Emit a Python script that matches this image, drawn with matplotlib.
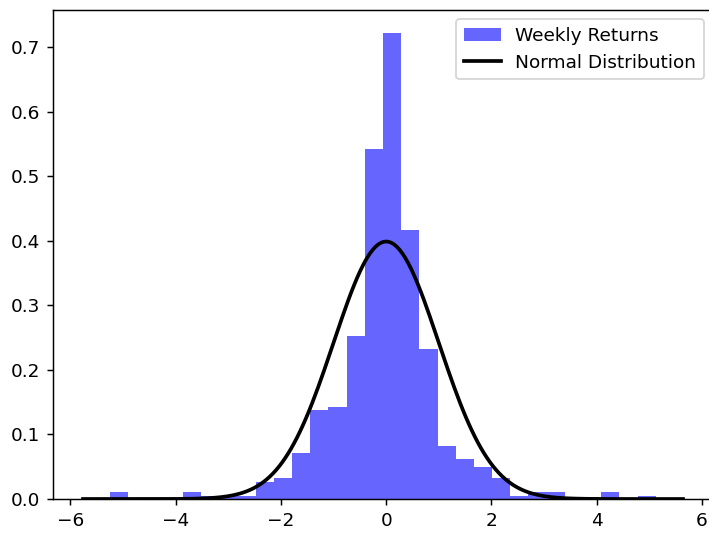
import numpy as np
import matplotlib
matplotlib.use("Agg")
import matplotlib.pyplot as plt

# Histogram (density) of standardized weekly returns
bin_min = -5.24
bin_max = 5.12
n_bins = 30
densities = [
    0.0103, 0.0, 0.0, 0.0, 0.0103, 0.0052, 0.0052, 0.0052, 0.0265, 0.0320,
    0.0720, 0.1375, 0.1430, 0.2530, 0.5426, 0.7215, 0.4160, 0.2320, 0.0825, 0.0615,
    0.0494, 0.0320, 0.0052, 0.0103, 0.0103, 0.0, 0.0, 0.0103, 0.0, 0.0052,
]
# Normal distribution parameters
mu = 0.0
sigma = 1.0

dpi = 133
fig = plt.figure(figsize=(709 / dpi, 534 / dpi), dpi=dpi)
ax = fig.add_axes([53 / 709, 35 / 534, 660 / 709, 489 / 534])

edges = np.linspace(bin_min, bin_max, n_bins + 1)
ax.hist(edges[:-1], bins=edges, weights=densities, color="blue", alpha=0.6,
        label="Weekly Returns")

xmin, xmax = ax.get_xlim()
x = np.linspace(xmin, xmax, 200)
pdf = np.exp(-0.5 * ((x - mu) / sigma) ** 2) / (sigma * np.sqrt(2 * np.pi))
ax.plot(x, pdf, "k", linewidth=2, label="Normal Distribution")

ax.legend(loc="upper right")
fig.savefig("out.png", dpi=dpi)
